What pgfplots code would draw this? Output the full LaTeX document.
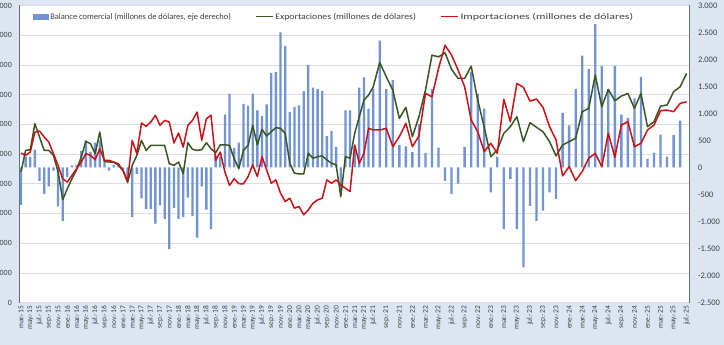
\documentclass[border=0pt]{standalone}
\usepackage{pgfplots}
\pgfplotsset{compat=1.18}
\usepackage{pgfplotstable}
\usepackage{fontspec}
\setmainfont{Carlito}
\usepackage{graphicx}

\definecolor{barblue}{RGB}{114,147,212}
\definecolor{expgreen}{RGB}{56,87,35}
\definecolor{impred}{RGB}{204,16,24}
\definecolor{chartbg}{RGB}{220,230,242}
\definecolor{txtgray}{RGB}{64,64,64}
\definecolor{axgray}{RGB}{110,110,110}

% i = month index (0 = mar-15 ... 124 = jul-25)
\pgfplotstableread{
i bal exp imp
0 -690 4394 5033
1 200 5122 4954
2 190 5144 5066
3 330 6020 5740
4 -250 5570 5774
5 -490 5122 5572
6 -350 5122 5403
7 -60 4954 5010
8 -720 4400 4617
9 -990 3460 4168
10 -180 3834 4056
11 40 4170 4280
12 50 4472 4505
13 310 4898 4729
14 500 5424 5010
15 290 5346 4954
16 460 5010 4808
17 500 5738 5179
18 150 4752 4786
19 -60 4730 4786
20 50 4730 4729
21 20 4618 4673
22 -60 4450 4449
23 -150 4036 4112
24 -920 4618 5459
25 -120 4954 5010
26 -570 5458 6043
27 -770 5122 5931
28 -770 5290 6077
29 -1040 5290 6302
30 -700 5290 5965
31 -950 5290 6133
32 -1510 4674 6077
33 -750 4618 5370
34 -950 4730 5706
35 -920 4338 5235
36 -560 5380 5965
37 -900 5156 6133
38 -1300 5122 6414
39 -350 5144 5459
40 -780 5380 6189
41 -1140 5178 6302
42 220 5044 4786
43 200 5310 5066
44 980 5310 4392
45 1370 5290 3943
46 360 4842 4168
47 460 4506 4000
48 1180 5122 3994
49 1140 5290 4240
50 1370 5965 4632
51 1060 5304 4240
52 950 5830 4912
53 1170 5606 4464
54 1750 5752 4016
55 1770 5886 4128
56 2500 5864 3680
57 2250 5696 3400
58 1030 4688 3512
59 1120 4352 3176
60 1150 4330 3232
61 1410 4330 2952
62 1900 5024 3120
63 1480 4856 3344
64 1450 4912 3456
65 1420 4934 3512
66 580 4800 4128
67 680 4688 4016
68 380 4632 4128
69 -400 3568 3960
70 1060 4912 3848
71 1060 4856 3736
72 400 5696 5304
73 1480 6256 4688
74 1670 6816 5024
75 1090 6984 5864
76 1460 7264 5808
77 2350 8082 5808
78 1450 7600 5864
79 1620 7152 5248
80 420 6200 5584
81 390 6570 6032
82 290 5584 5248
83 810 6256 5606
84 270 7152 7040
85 1450 8328 6928
86 370 8272 7880
87 -250 8406 8664
88 -490 7846 8328
89 -300 7544 7824
90 380 7544 7264
91 1770 7958 6144
92 1370 6816 5752
93 1090 5900 5080
94 -460 4912 5360
95 200 5136 5024
96 -1140 5696 6838
97 -210 5920 6088
98 -1140 6256 7376
99 -1850 5416 7242
100 -710 6054 6782
101 -990 5898 6850
102 -800 5752 6570
103 -460 5416 5920
104 -580 4934 5472
105 1010 5304 4262
106 780 5416 4576
107 1450 5528 4106
108 2070 6424 4408
109 1820 6536 4856
110 2660 7656 5024
111 1880 6592 4576
112 1450 7174 5696
113 1880 6794 4890
114 980 6950 5976
115 920 7040 6088
116 1280 6536 5248
117 1680 7040 5360
118 160 5920 5808
119 270 6088 5976
120 610 6614 6458
121 200 6648 6480
122 600 7096 6424
123 870 7264 6704
124 nan 7712 6760
}\datatable

\pgfplotsset{
  commonax/.style={
    scale only axis, width=670.3bp, height=297bp,
    xmin=-0.43, xmax=144.2,
  },
}

\begin{document}
\begin{tikzpicture}
\useasboundingbox (-19bp,-42.5bp) rectangle (705bp,302.5bp);
\fill[chartbg] (-19bp,-42.5bp) rectangle (705bp,302.5bp);
\fill[white] (0bp,0bp) rectangle (670.3bp,297bp);

% left axis: grid, left labels, x labels
\begin{axis}[commonax,
  ymin=0, ymax=10000,
  axis y line*=left, axis x line*=bottom,
  x axis line style={draw=none},
  y axis line style={draw=axgray, line width=0.9bp},
  ytick={0,1000,...,10000},
  scaled y ticks=false,
  ymajorgrids, grid style={draw=black!13, line width=0.5bp},
  major tick length=0pt,
  /pgf/number format/1000 sep={.},
  /pgf/number format/assume math mode=true,
  yticklabel style={font=\fontsize{8}{9}\selectfont, text=txtgray, anchor=east, inner sep=0pt, xshift=-7bp},
  xtick={0,2,...,76,78.818,81.636,84.454,87.272,90.09,92.908,95.726,98.544,101.362,104.18,106.998,109.816,112.634,115.452,118.27,121.088,123.906,126.724,129.542,132.36,135.178,137.996,140.814,143.632},
  xticklabels={mar.-15,may.-15,jul.-15,sep.-15,nov.-15,ene.-16,mar.-16,may.-16,jul.-16,sep.-16,nov.-16,ene.-17,mar.-17,may.-17,jul.-17,sep.-17,nov.-17,ene.-18,mar.-18,may.-18,jul.-18,sep.-18,nov.-18,ene.-19,mar.-19,may.-19,jul.-19,sep.-19,nov.-19,ene.-20,mar.-20,may.-20,jul.-20,sep.-20,nov.-20,ene.-21,mar.-21,may.-21,jul.-21,sep.-21,nov.-21,ene.-22,mar.-22,may.-22,jul.-22,sep.-22,nov.-22,ene.-23,mar.-23,may.-23,jul.-23,sep.-23,nov.-23,ene.-24,mar.-24,may.-24,jul.-24,sep.-24,nov.-24,ene.-25,mar.-25,may.-25,jul.-25},
  xticklabel style={font=\fontsize{7.5}{8}\selectfont, text=txtgray, yshift=-3.5bp, rotate=90, anchor=east, inner sep=0pt},
]
\end{axis}

% right axis: trade balance bars
\begin{axis}[commonax,
  ymin=-2500, ymax=3000,
  axis y line*=right, axis x line=none,
  y axis line style={draw=axgray, line width=0.9bp},
  ytick={-2500,-2000,...,3000},
  scaled y ticks=false,
  major tick length=0pt,
  /pgf/number format/1000 sep={.},
  /pgf/number format/assume math mode=true,
  yticklabel style={font=\fontsize{8.5}{9}\selectfont, text=txtgray, anchor=west, inner sep=0pt, xshift=8.5bp},
]
\addplot[ybar, bar width=0.5, fill=barblue, draw=none] table[x expr={\thisrow{i}<=76 ? \thisrow{i} : 76+(\thisrow{i}-76)*1.409}, y=bal]{\datatable};
\end{axis}

% lines: exports and imports (left scale)
\begin{axis}[commonax,
  ymin=0, ymax=10000,
  hide axis,
  legend columns=3,
  legend image code/.code={\draw[#1] (0bp,0bp) -- (17bp,0bp);},
  legend style={at={(0.019,0.986)}, anchor=north west, draw=none, fill=white,
    font=\fontsize{8.5}{10}\selectfont, text=txtgray, inner sep=1bp,
    /tikz/every even column/.append style={column sep=22bp}},
]
\addlegendimage{legend image code/.code={\fill[barblue] (0bp,-2.2bp) rectangle (15bp,2.2bp);}}
\addlegendentry{Balance comercial (millones de dólares, eje derecho)}
\addplot[expgreen, line width=1.5bp, line join=round] table[x expr={\thisrow{i}<=76 ? \thisrow{i} : 76+(\thisrow{i}-76)*1.409}, y=exp]{\datatable};
\addlegendentry{\scalebox{1.15}[1]{Exportaciones (millones de dólares)}}
\addplot[impred, line width=1.5bp, line join=round] table[x expr={\thisrow{i}<=76 ? \thisrow{i} : 76+(\thisrow{i}-76)*1.409}, y=imp]{\datatable};
\addlegendentry{\scalebox{1.4}[1]{Importaciones (millones de dólares)}}
\end{axis}
\end{tikzpicture}
\end{document}
